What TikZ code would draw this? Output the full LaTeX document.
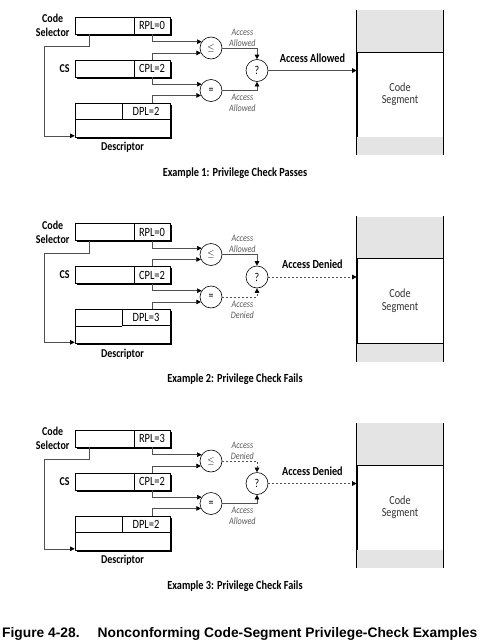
\documentclass[tikz,border=0pt]{standalone}
\usepackage{fontspec}
\setmainfont{Carlito}[FakeStretch=0.83]
\newfontfamily\figfont{Liberation Sans}
\usetikzlibrary{arrows.meta, positioning, shadows}
\definecolor{linegray}{HTML}{505050}
\definecolor{bandgray}{HTML}{E4E4E4}
\definecolor{notegray}{HTML}{5A5A5A}
\definecolor{textgray}{HTML}{333333}

\begin{document}
\begin{tikzpicture}[x=1pt, y=-1pt,
    regbox/.style={rectangle, draw, fill=white, line width=0.6pt, minimum height=17pt, inner sep=0pt,
      general shadow={fill=black, shadow xshift=1.6pt, shadow yshift=-1.6pt}},
    field/.style={rectangle, draw, line width=0.6pt, inner sep=0pt, font=\fontsize{12.6}{14}\selectfont},
    lbl/.style={inner sep=0pt, align=center, font=\bfseries\fontsize{12}{13.8}\selectfont},
    cmp/.style={circle, draw, fill=white, line width=0.6pt, minimum size=22pt, inner sep=0pt, font=\fontsize{12}{14}\selectfont},
    note/.style={inner sep=1.5pt, align=center, text=notegray, font=\itshape\fontsize{9.8}{11}\selectfont},
    head/.style={inner sep=0pt, font=\bfseries\fontsize{12.3}{14}\selectfont},
    band/.style={rectangle, fill=bandgray, minimum width=86pt, inner sep=0pt},
    segbox/.style={rectangle, draw, fill=white, line width=0.7pt, minimum width=86pt, minimum height=85pt,
      align=center, text=textgray, font=\fontsize{12.3}{12.5}\selectfont},
    excap/.style={inner sep=0pt, font=\bfseries\fontsize{12.4}{14}\selectfont},
    conn/.style={draw=linegray, line width=0.6pt},
    arr/.style={conn, -{Triangle[length=4.5pt, width=4.5pt, color=black]}},
    denied/.style={dash pattern=on 2pt off 2pt},
  ]
  \useasboundingbox (0,0) rectangle (482,640);

  \foreach \i/\rpl/\dpl/\lest/\lelbl/\eqst/\eqlbl/\outst/\outlbl/\n/\res in {
      0/0/2/solid/Allowed/solid/Allowed/solid/Allowed/1/Passes,
      1/0/3/solid/Allowed/denied/Denied/denied/Denied/2/Fails,
      2/3/2/denied/Denied/solid/Allowed/denied/Denied/3/Fails} {
    \begin{scope}[shift={(0,206.5*\i)}]
      % Nodes
      \node[regbox, minimum width=95pt] (sel\i) at (122.5,25.5) {};
      \node[field, minimum width=36pt, minimum height=17pt, anchor=east] (rpl\i) at (sel\i.east) {RPL=\rpl};
      \node[lbl, left=5pt of sel\i] (sellbl\i) {Code\\Selector};
      \node[regbox, minimum width=95pt] (cs\i) at (122.5,68.5) {};
      \node[field, minimum width=36pt, minimum height=17pt, anchor=east] (cpl\i) at (cs\i.east) {CPL=2};
      \node[lbl, left=5pt of cs\i] (cslbl\i) {CS};
      \node[regbox, minimum width=95pt, minimum height=34pt] (desc\i) at (122.5,120) {};
      \node[field, minimum width=48pt, minimum height=16pt, anchor=north east] (dpl\i) at (desc\i.north east) {DPL=\dpl};
      \draw[line width=0.6pt] (dpl\i.south west) -- (desc\i.west |- dpl\i.south);
      \node[lbl, below=5pt of desc\i] (desclbl\i) {Descriptor};

      \node[cmp] (le\i) at (211,48) {\fontsize{9.5}{11}\selectfont$\leq$};
      \node[cmp] (eq\i) at (211,90.5) {=};
      \node[cmp] (q\i) at (257,70.5) {?};

      \node[band, minimum height=42pt] (segtop\i) at (400,31) {};
      \node[segbox] (seg\i) at (400,94.5) {Code\\Segment};
      \node[band, minimum height=18pt] (segbot\i) at (400,146) {};
      \draw[line width=1.1pt] (segtop\i.north west) -- (segbot\i.south west);
      \draw[line width=1.1pt] (segtop\i.north east) -- (segbot\i.south east);

      \node[excap] (cap\i) at (235,173) {Example \n: Privilege Check \res};

      % Arrows
      \draw[arr] ([xshift=15pt]sel\i.south west) -- ++(0,12)
        -| ([xshift=-30pt, yshift=1.5pt]desc\i.south west) -- ([yshift=1.5pt]desc\i.south west);
      \draw[arr] (rpl\i.south) |- (le\i.146);
      \draw[arr] (cpl\i.north) |- (le\i.206);
      \draw[arr] (cpl\i.south) |- (eq\i.146);
      \draw[arr] (dpl\i.north -| cpl\i.south) |- (eq\i.206);
      \draw[arr, \lest] (le\i.east) -| node[pos=0.29, above, note] {Access\\\lelbl} (q\i.north);
      \draw[arr, \eqst] (eq\i.east) -| node[pos=0.29, below=2pt, note] {Access\\\eqlbl} (q\i.south);
      \draw[arr, \outst] (q\i.east) -- node[above=8pt, head] {Access \outlbl} (q\i.east -| seg\i.west);
    \end{scope}
  }

  \node[inner sep=0pt, anchor=base west, font=\figfont\bfseries\fontsize{13.8}{16}\selectfont] (figcap) at (2,637.5)
    {Figure 4-28.\hspace{18pt}Nonconforming Code-Segment Privilege-Check Examples};
\end{tikzpicture}
\end{document}
